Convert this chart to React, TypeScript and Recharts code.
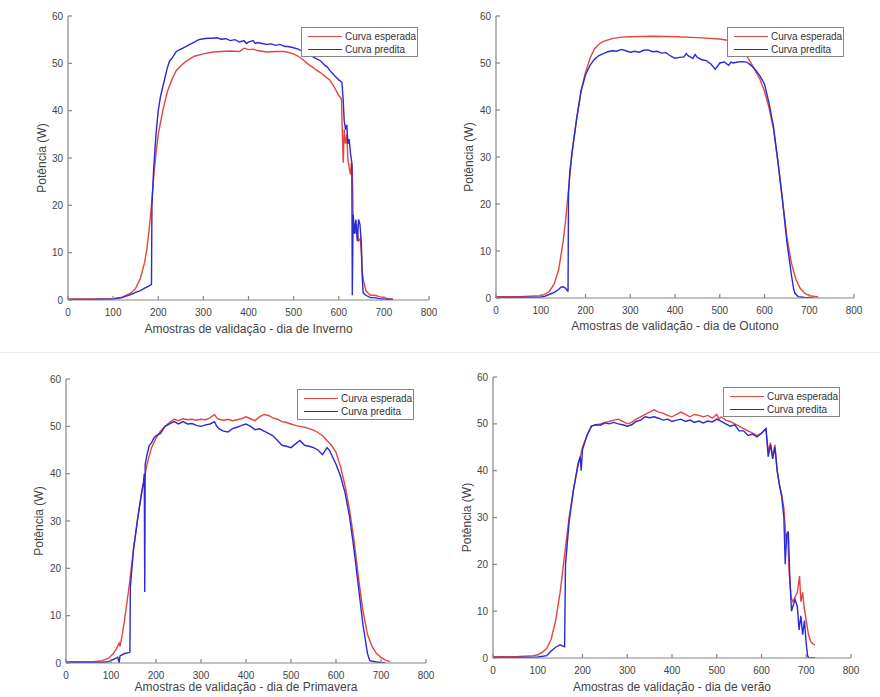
import React from 'react';
import { LineChart, Line, XAxis, YAxis, Legend } from 'recharts';

const xTicks = [0, 100, 200, 300, 400, 500, 600, 700, 800];
const yTicks = [0, 10, 20, 30, 40, 50, 60];
const seriesNames = ['Curva esperada', 'Curva predita'];
const yAxisLabel = 'Potência (W)';
const xAxisLabels = [
  'Amostras de validação - dia de Inverno',
  'Amostras de validação - dia de Outono',
  'Amostras de validação - dia de Primavera',
  'Amostras de validação - dia de verão',
];

// ---- Inverno ----
const invernoEspX = [0, 50, 100, 120, 140, 150, 160, 170, 175, 180, 185, 190, 195, 200, 210, 220, 230, 240, 250, 260, 280, 300, 320, 340, 360, 380, 390, 400, 410, 420, 440, 460, 480, 500, 510, 520, 530, 540, 550, 560, 570, 580, 590, 600, 606, 608, 610, 612, 615, 618, 620, 623, 626, 628, 630, 632, 636, 640, 644, 648, 650, 652, 655, 660, 665, 670, 680, 690, 700, 710, 720];
const invernoEspY = [0.2, 0.2, 0.3, 0.6, 1.5, 2.5, 4.5, 8, 11, 15, 20, 26, 31, 35, 40, 44, 46.5, 48.5, 49.5, 50.3, 51.5, 52, 52.4, 52.5, 52.6, 52.5, 53.2, 52.9, 53, 52.7, 52.4, 52.5, 52.5, 52, 51.5, 50.8, 50, 49.3, 48.6, 48, 47.2, 46.5, 45, 43.2, 42.5, 35, 29, 36, 33, 35, 30, 28, 26.5, 29, 28, 17, 14, 16, 12.5, 13, 10, 6, 4, 2, 1.5, 1, 1, 0.7, 0.5, 0.3, 0.2];
const invernoPredX = [0, 50, 100, 120, 140, 150, 160, 170, 180, 185, 186, 190, 195, 200, 205, 210, 215, 220, 225, 230, 240, 250, 260, 270, 280, 290, 300, 310, 320, 330, 340, 350, 360, 370, 380, 390, 395, 400, 410, 415, 420, 430, 440, 450, 460, 470, 480, 490, 500, 510, 520, 530, 540, 550, 560, 570, 575, 580, 590, 600, 607, 610, 612, 615, 618, 620, 623, 626, 629, 630, 632, 635, 638, 641, 644, 647, 650, 652, 654, 660, 670, 680, 690, 700, 720];
const invernoPredY = [0.1, 0.1, 0.2, 0.5, 1.2, 1.6, 2, 2.5, 3, 3.3, 20, 28, 35, 40, 43, 45, 47, 49, 50.5, 51, 52.5, 53, 53.5, 54, 54.5, 55, 55.2, 55.3, 55.3, 55.4, 55.1, 55.2, 54.8, 55, 54.5, 54.8, 54.2, 54.5, 54.8, 54.2, 54.4, 54.2, 54, 54.1, 53.8, 54, 53.6, 53.5, 53.3, 53, 52.5, 52, 51.5, 51, 50.5, 49.5, 49.2, 48.5, 47.5, 46.5, 46, 42, 38, 36, 37, 33, 34, 31, 29, 1, 18, 14, 17, 12.5, 17, 16, 12, 5, 1.5, 1, 0.5, 0.5, 0.3, 0.2, 0.1];

// ---- Outono ----
const outonoEspX = [0, 50, 100, 110, 120, 130, 140, 150, 155, 160, 165, 170, 180, 190, 200, 210, 220, 230, 240, 260, 280, 300, 350, 400, 450, 500, 520, 535, 550, 560, 570, 580, 590, 600, 610, 620, 630, 640, 650, 660, 670, 680, 690, 700, 720];
const outonoEspY = [0.3, 0.3, 0.5, 0.8, 1.5, 3, 6, 12, 16, 21, 26, 31, 38, 44, 48, 51, 53, 54, 54.6, 55.2, 55.5, 55.6, 55.7, 55.6, 55.4, 55.1, 54.8, 54.3, 53, 51.5, 50, 48.3, 46.5, 44, 40.5, 36, 29, 21, 13, 7.5, 4, 2, 1, 0.5, 0.2];
const outonoPredX = [0, 100, 110, 120, 130, 140, 145, 150, 155, 160, 161, 162, 165, 170, 180, 190, 200, 210, 220, 230, 240, 250, 260, 270, 280, 290, 300, 310, 320, 330, 340, 350, 360, 370, 380, 390, 400, 410, 420, 425, 430, 440, 445, 450, 460, 470, 480, 490, 495, 500, 510, 520, 525, 530, 540, 550, 560, 570, 580, 590, 600, 610, 620, 630, 640, 650, 660, 665, 668, 675, 690, 710];
const outonoPredY = [0.1, 0.2, 0.4, 0.8, 1.2, 1.8, 2.3, 2.4, 2.1, 1.5, 1.5, 22, 27, 31, 38, 44, 47.5, 49.5, 50.8, 51.6, 52, 52.4, 52.6, 52.5, 52.9, 52.6, 52.3, 52.5, 52.3, 52.7, 52.8, 52.4, 52.5, 52.1, 52.2, 51.5, 51, 51.2, 51.3, 52, 51.5, 51, 51.8, 51.2, 50.7, 50.5, 49.8, 48.7, 49.3, 50, 50.2, 49.5, 50.2, 50, 50.2, 50.3, 50.2, 49.5, 48.5, 47.2, 45.5, 41.5, 36.5, 29, 21, 12, 5, 2, 1, 0.3, 0.1, 0];

// ---- Primavera ----
const primaveraEspX = [0, 60, 80, 95, 105, 112, 118, 120, 125, 130, 140, 150, 160, 170, 180, 190, 200, 210, 220, 230, 240, 250, 260, 270, 280, 290, 300, 310, 320, 330, 335, 340, 350, 360, 370, 380, 390, 400, 410, 420, 430, 440, 450, 460, 470, 480, 490, 500, 510, 520, 530, 540, 550, 560, 570, 580, 590, 600, 610, 620, 630, 640, 650, 660, 670, 680, 690, 700, 710, 720];
const primaveraEspY = [0.3, 0.3, 0.5, 1, 2, 3, 4.2, 3.5, 6, 9, 16, 24, 31, 37, 42, 45.5, 47.5, 49, 50, 50.8, 51.5, 51.2, 51.6, 51.4, 51.5, 51.3, 51.5, 51.4, 51.8, 52.5, 51.8, 51.5, 51.3, 51.5, 51.2, 51.4, 51.6, 52, 51.6, 51.2, 52, 52.5, 52.3, 51.8, 51.5, 51, 50.8, 50.5, 50.2, 50, 49.8, 49.5, 49.2, 48.7, 48, 47, 46, 44.5, 41.5, 37.5, 32.5, 26, 18, 11, 6, 3.5, 2, 1.2, 0.6, 0.3];
const primaveraPredX = [0, 60, 90, 100, 110, 115, 118, 120, 130, 140, 142, 143, 150, 160, 168, 172, 174, 175, 176, 180, 185, 190, 195, 200, 210, 220, 230, 240, 250, 260, 270, 280, 290, 300, 310, 320, 330, 335, 340, 350, 360, 370, 380, 390, 400, 410, 420, 430, 440, 450, 460, 470, 480, 490, 500, 510, 520, 530, 540, 550, 560, 570, 580, 585, 590, 600, 610, 620, 630, 640, 650, 660, 670, 675, 690, 710];
const primaveraPredY = [0.1, 0.1, 0.2, 0.5, 1, 1.2, 0, 1.5, 2, 2.2, 2.3, 16, 24, 31, 36, 38, 40, 15, 42, 44, 46, 46.5, 47.5, 48, 48.5, 50, 50.5, 51, 50.5, 51, 50.5, 50.6, 50.2, 50, 50.3, 50.5, 51, 50, 49.5, 49, 48.8, 49.5, 49.8, 50.2, 50.5, 50, 49.3, 49.5, 49, 48.5, 48, 47, 46, 45.8, 45.5, 46.3, 47, 46, 45.8, 45.5, 45, 44, 45.5, 45, 44, 42, 39.5, 36, 31, 24, 16, 8, 2, 0.5, 0.2, 0];

// ---- Verão ----
const veraoEspX = [0, 50, 90, 100, 110, 120, 130, 140, 150, 160, 170, 180, 190, 200, 210, 220, 230, 240, 250, 260, 270, 280, 290, 300, 310, 320, 330, 340, 350, 360, 370, 380, 390, 400, 410, 420, 430, 440, 450, 460, 470, 480, 490, 500, 505, 510, 520, 530, 540, 550, 560, 570, 580, 590, 600, 610, 615, 620, 625, 630, 635, 640, 645, 650, 655, 658, 662, 666, 670, 675, 680, 685, 688, 692, 695, 700, 705, 710, 715, 720];
const veraoEspY = [0.3, 0.3, 0.5, 0.7, 1.2, 2, 4, 8, 14, 22, 30, 36, 41, 45, 47.5, 49.5, 49.8, 50, 50.3, 50.5, 50.8, 51, 50.5, 50, 50.3, 51, 51.5, 52, 52.5, 53, 52.5, 52.3, 51.8, 51.5, 52, 52.5, 52, 51.5, 52, 51.8, 51.5, 51.8, 51.2, 52, 51, 51.5, 50.8, 50.5, 50, 49.5, 49, 48.5, 48, 47.5, 48, 49, 44, 46, 43, 45.5, 40, 37, 35, 32, 25, 27, 18, 13, 12, 13, 14, 17.5, 12, 14, 11, 8, 5, 3.5, 3, 2.8];
const veraoPredX = [0, 50, 100, 120, 130, 140, 150, 155, 160, 162, 170, 180, 190, 195, 197, 200, 210, 220, 230, 240, 250, 260, 270, 280, 290, 300, 310, 320, 330, 340, 350, 360, 370, 380, 390, 400, 410, 420, 430, 440, 450, 460, 470, 480, 490, 500, 510, 520, 530, 540, 550, 560, 570, 580, 590, 600, 610, 615, 620, 625, 630, 635, 640, 645, 650, 653, 656, 660, 663, 667, 670, 675, 680, 684, 688, 692, 696, 700, 703, 706, 720];
const veraoPredY = [0.1, 0.1, 0.2, 0.5, 1.5, 2.3, 2.8, 2.6, 2.4, 20, 29, 36, 41.5, 43, 40, 44.5, 47.5, 49.5, 49.8, 49.7, 50.2, 50, 50.3, 50, 49.8, 49.5, 49.8, 50.5, 50.8, 51.5, 51.3, 51.5, 51.2, 50.8, 51, 50.5, 50.8, 51, 50.5, 50.8, 50.3, 50.6, 50.2, 50.6, 50.4, 51, 50.5, 50, 49.5, 49.8, 48.5, 48.5, 47.5, 47.8, 47.2, 48, 49, 43, 45.5, 42.5, 45, 40, 37, 34.5, 30, 20, 26, 27, 18, 10, 11, 12.5, 11, 6, 9, 5, 8, 3, 0.5, 0, 0];

const toPoints = (xs: number[], ys: number[]) => xs.map((x, i) => ({ x, y: ys[i] }));

const FONT = '"Liberation Sans", Arial, Helvetica, sans-serif';
const RED = '#e5463e';
const BLUE = '#2a2ad6';
const AXIS = '#858585';
const TEXT = '#444444';

type PanelCfg = {
  key: string;
  xLabel: string;
  esp: { x: number; y: number }[];
  pred: { x: number; y: number }[];
  plot: { l: number; t: number; r: number; b: number };
  yGap: number;
  xOff: number;
  legend: { x: number; y: number; w: number; h: number };
};

const panels: PanelCfg[] = [
  { key: 'inverno', xLabel: xAxisLabels[0], esp: toPoints(invernoEspX, invernoEspY), pred: toPoints(invernoPredX, invernoPredY), plot: { l: 68, t: 16, r: 429, b: 300 }, yGap: 26, xOff: 29, legend: { x: 301, y: 27, w: 117, h: 30 } },
  { key: 'outono', xLabel: xAxisLabels[1], esp: toPoints(outonoEspX, outonoEspY), pred: toPoints(outonoPredX, outonoPredY), plot: { l: 496, t: 16, r: 854, b: 298 }, yGap: 27, xOff: 28, legend: { x: 727, y: 27, w: 117, h: 30 } },
  { key: 'primavera', xLabel: xAxisLabels[2], esp: toPoints(primaveraEspX, primaveraEspY), pred: toPoints(primaveraPredX, primaveraPredY), plot: { l: 66, t: 379, r: 426, b: 663 }, yGap: 27, xOff: 24, legend: { x: 297, y: 389, w: 117, h: 31 } },
  { key: 'verao', xLabel: xAxisLabels[3], esp: toPoints(veraoEspX, veraoEspY), pred: toPoints(veraoPredX, veraoPredY), plot: { l: 493, t: 377, r: 851, b: 658 }, yGap: 26, xOff: 29, legend: { x: 723, y: 387, w: 117, h: 30 } },
];

const makeLegend = (w: number, h: number) => (props: any) => {
  const payload = props.payload || [];
  return (
    <div style={{ width: w, height: h, boxSizing: 'border-box', border: `1px solid ${AXIS}`, background: '#fff', fontFamily: FONT, fontSize: 10, color: '#333', paddingTop: 2 }}>
      {payload.map((e: any, i: number) => (
        <div key={i} style={{ display: 'flex', alignItems: 'center', height: 13, lineHeight: '13px' }}>
          <span style={{ display: 'inline-block', width: 34, height: 0, borderTop: `1.4px solid ${e.color}`, marginLeft: 6, marginRight: 3 }} />
          <span>{e.value}</span>
        </div>
      ))}
    </div>
  );
};

function Panel({ p }: { p: PanelCfg }) {
  const left = p.plot.l - 2 * p.yGap - 2;
  const top = p.plot.t - 10;
  const width = p.plot.r + 10 - left;
  const height = p.plot.b + 2 * p.xOff + 4 - top;
  const tickStyle = { fill: TEXT, fontSize: 10, fontFamily: FONT };
  return (
    <div style={{ position: 'absolute', left, top, width, height }}>
      <LineChart width={width} height={height} margin={{ left: 2, top: 10, right: 10, bottom: 4 }}>
        <XAxis xAxisId="b" dataKey="x" type="number" domain={[0, 800]} ticks={xTicks} interval={0} allowDataOverflow
          tickSize={-4} tickMargin={13} height={2 * p.xOff} stroke={AXIS} strokeWidth={1.2} tick={tickStyle}
          label={{ value: p.xLabel, position: 'center', fill: TEXT, fontSize: 12, fontFamily: FONT }} />
        <XAxis xAxisId="t" orientation="top" dataKey="x" type="number" domain={[0, 800]} ticks={xTicks} interval={0} allowDataOverflow
          tickSize={-4} height={0} stroke={AXIS} strokeWidth={1.2} tick={false} />
        <YAxis yAxisId="l" type="number" domain={[0, 60]} ticks={yTicks} interval={0} allowDataOverflow
          tickSize={-4} tickMargin={9} width={2 * p.yGap} stroke={AXIS} strokeWidth={1.2} tick={tickStyle}
          label={{ value: yAxisLabel, angle: -90, position: 'center', fill: TEXT, fontSize: 12, fontFamily: FONT }} />
        <YAxis yAxisId="r" orientation="right" type="number" domain={[0, 60]} ticks={yTicks} interval={0} allowDataOverflow
          tickSize={-4} width={0} stroke={AXIS} strokeWidth={1.2} tick={false} />
        <Line xAxisId="b" yAxisId="l" data={p.esp} dataKey="y" name={seriesNames[0]} type="linear" stroke={RED} strokeWidth={1.4} dot={false} activeDot={false} isAnimationActive={false} />
        <Line xAxisId="b" yAxisId="l" data={p.pred} dataKey="y" name={seriesNames[1]} type="linear" stroke={BLUE} strokeWidth={1.4} dot={false} activeDot={false} isAnimationActive={false} />
        <Legend layout="horizontal" verticalAlign="middle" align="center"
          content={makeLegend(p.legend.w, p.legend.h)}
          wrapperStyle={{ left: p.legend.x - left, top: p.legend.y - top, width: p.legend.w, height: p.legend.h }} />
      </LineChart>
    </div>
  );
}

export default function App() {
  return (
    <div style={{ position: 'absolute', left: 0, top: 0, width: 880, height: 697, overflow: 'hidden', background: '#fff' }}>
      <div style={{ position: 'absolute', left: 0, top: 352, width: 880, height: 1, background: '#ececec' }} />
      {panels.map((p) => (
        <Panel key={p.key} p={p} />
      ))}
    </div>
  );
}
